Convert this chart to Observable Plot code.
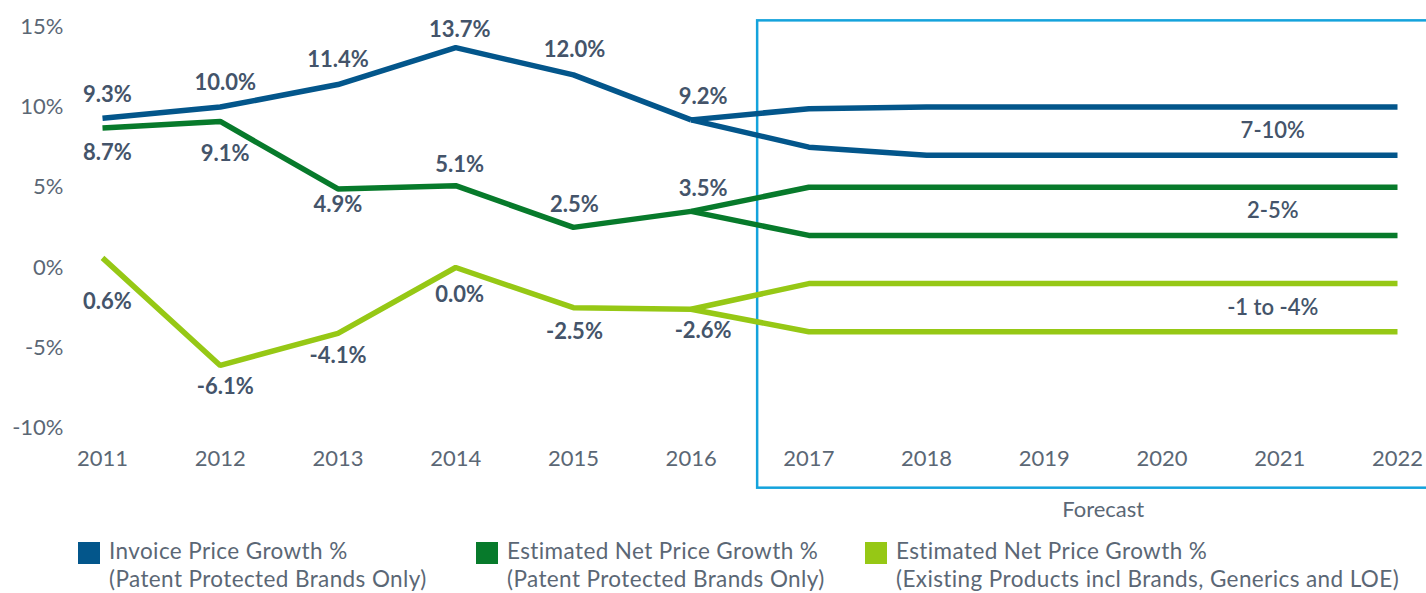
<!DOCTYPE html>
<html><head><meta charset="utf-8">
<script src="https://cdn.jsdelivr.net/npm/d3@7"></script>
<script src="https://cdn.jsdelivr.net/npm/@observablehq/plot@0.6"></script>
<style>
body{margin:0;background:#fff;overflow:hidden;font-family:Lato,"Open Sans",sans-serif;}
#chart svg{display:block;}
#legend{position:relative;height:68px;width:1426px;}
.item{position:absolute;top:17px;}
.sw{position:absolute;left:0;top:0;width:22px;height:22px;}
.txt{position:absolute;left:31px;top:-5px;white-space:nowrap;font-size:22.5px;letter-spacing:0.4px;line-height:28px;color:#5b6775;}
</style></head><body>
<div id="chart"></div>
<div id="legend"></div>
<script>
// ---- data ----
const histYears = [2011, 2012, 2013, 2014, 2015, 2016];
const forecastYears = [2016, 2017, 2018, 2019, 2020, 2021, 2022];
const yTicks = [-10, -5, 0, 5, 10, 15];
const xTicks = [2011, 2012, 2013, 2014, 2015, 2016, 2017, 2018, 2019, 2020, 2021, 2022];

const invoiceHist  = [9.3, 10.0, 11.4, 13.7, 12.0, 9.2];
const netHist      = [8.7, 9.1, 4.9, 5.1, 2.5, 3.5];
const existingHist = [0.6, -6.1, -4.1, 0.0, -2.5, -2.6];

const invoiceHigh  = [9.2, 9.9, 10, 10, 10, 10, 10];
const invoiceLow   = [9.2, 7.5, 7, 7, 7, 7, 7];
const netHigh      = [3.5, 5, 5, 5, 5, 5, 5];
const netLow       = [3.5, 2, 2, 2, 2, 2, 2];
const existingHigh = [-2.6, -1, -1, -1, -1, -1, -1];
const existingLow  = [-2.6, -4, -4, -4, -4, -4, -4];

const seriesNames = ["Invoice Price Growth %", "Estimated Net Price Growth %", "Estimated Net Price Growth %"];
const seriesSub = ["(Patent Protected Brands Only)", "(Patent Protected Brands Only)", "(Existing Products incl Brands, Generics and LOE)"];
const rangeLabels = ["7-10%", "2-5%", "-1 to -4%"];
const forecastLabel = "Forecast";

// ---- layout / style (kept apart from data) ----
const colors = ["#03568b", "#077a2b", "#96c815"];
const boxColor = "#14a3dc";
const labelColor = "#44546a";
const tickColor = "#5b6775";
const labelDx = [5, 5, 0, 4, 1, 12];
const labelDy = [
  [-23, -24, -25, -18, -25, -23],
  [25, 32, 16, -21, -22, -22],
  [44, 22, 23, 27, 24, 22]
];
const box = {x1: 2016.565, x2: 2023.5, y1: -13.75, y2: 15.37};
const forecastPos = {x: 2019.5, y: -15.1};

const W = 1426, H = 525;
const hist = [invoiceHist, netHist, existingHist];
const highs = [invoiceHigh, netHigh, existingHigh];
const lows = [invoiceLow, netLow, existingLow];

const lineMarks = [];
hist.forEach((vals, s) => {
  const common = {x: "year", y: "value", stroke: colors[s], strokeWidth: 5.5, strokeLinecap: "butt", strokeLinejoin: "miter"};
  lineMarks.push(Plot.line(histYears.map((year, i) => ({year, value: vals[i]})), common));
  lineMarks.push(Plot.line(forecastYears.map((year, i) => ({year, value: highs[s][i]})), common));
  lineMarks.push(Plot.line(forecastYears.map((year, i) => ({year, value: lows[s][i]})), common));
});

const labelMarks = [];
hist.forEach((vals, s) => {
  vals.forEach((v, i) => {
    labelMarks.push(Plot.text([{year: histYears[i], value: v}], {
      x: "year", y: "value", text: d => d.value.toFixed(1) + "%",
      dx: labelDx[i], dy: labelDy[s][i],
      fill: labelColor, fontSize: 22, fontWeight: "bold", fontFamily: "Lato"
    }));
  });
});

const rangeData = rangeLabels.map((t, s) => ({
  year: forecastYears[forecastYears.length - 2],
  value: (highs[s][highs[s].length - 1] + lows[s][lows[s].length - 1]) / 2,
  text: t
}));

const chart = Plot.plot({
  width: W, height: H,
  marginLeft: 102, marginRight: 29, marginTop: 26.3, marginBottom: H - 427.5,
  style: {fontFamily: "Lato", background: "white"},
  x: {domain: [2011, 2022]},
  y: {domain: [-10, 15]},
  marks: [
    Plot.rect([box], {x1: "x1", x2: "x2", y1: "y1", y2: "y2", fill: "none", stroke: boxColor, strokeWidth: 2.5}),
    Plot.axisY(yTicks, {tickSize: 0, tickPadding: 39, tickFormat: d => d + "%", fontSize: 22, fill: tickColor, label: null}),
    Plot.axisX(xTicks, {tickSize: 0, tickPadding: 22, tickFormat: d => String(d), fontSize: 22, fill: tickColor, label: null}),
    ...lineMarks,
    ...labelMarks,
    Plot.text(rangeData, {x: "year", y: "value", text: "text", dx: -7, fill: labelColor, fontSize: 22, fontWeight: 600, fontFamily: "Lato"}),
    Plot.text([forecastPos], {x: "x", y: "y", text: () => forecastLabel, fill: tickColor, fontSize: 22, fontFamily: "Lato", style: {letterSpacing: "0.4px"}})
  ]
});
document.getElementById("chart").appendChild(chart);

const legendLeft = [78, 476, 865];
const legend = document.getElementById("legend");
seriesNames.forEach((name, s) => {
  const item = document.createElement("div");
  item.className = "item";
  item.style.left = legendLeft[s] + "px";
  item.innerHTML = `<div class="sw" style="background:${colors[s]}"></div><div class="txt">${name}<br>${seriesSub[s]}</div>`;
  legend.appendChild(item);
});
</script>
</body></html>
